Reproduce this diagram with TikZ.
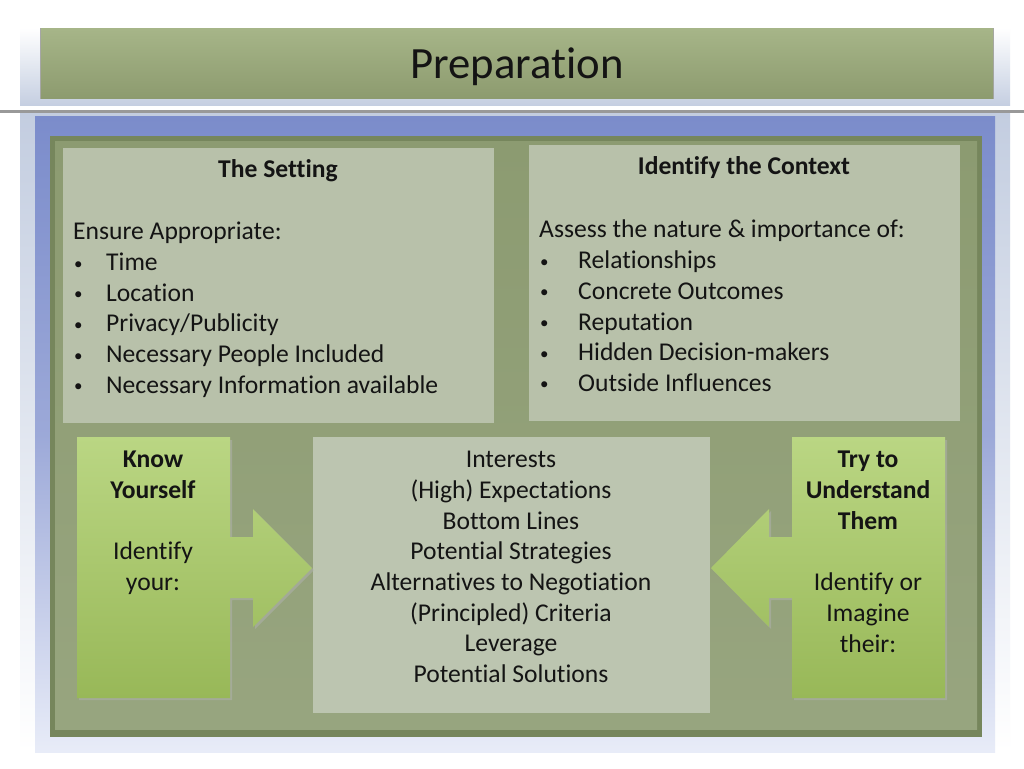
\documentclass[tikz,border=0pt]{standalone}
\usepackage{fontspec}
\setmainfont{Carlito}[RawFeature={-liga;-clig;-calt}]
\newcommand{\blt}[1]{\makebox[#1][l]{\hspace*{1pt}\raisebox{1.5pt}{\fontsize{17pt}{17pt}\selectfont •}}}
\begin{document}
\begin{tikzpicture}[x=1pt,y=-1pt,
  body/.style={font=\fontsize{25.6pt}{30.7pt}\selectfont, text=black!92, inner sep=0pt},
  lightbox/.style={fill=boxfill},
  greenarrow/.style={top color=arrowtop, bottom color=arrowbot, draw=none},
]
\definecolor{backblue}{HTML}{C3CDE0}
\definecolor{titletop}{HTML}{A6B588}
\definecolor{titlebot}{HTML}{8D9B6F}
\definecolor{panelblue}{HTML}{7B8CCB}
\definecolor{panelbluelow}{HTML}{E8ECF8}
\definecolor{panelgreen}{HTML}{8C9B71}
\definecolor{panelgreendark}{HTML}{76865C}
\definecolor{boxfill}{HTML}{B8C1AA}
\definecolor{midfill}{HTML}{BCC5B0}
\definecolor{arrowtop}{HTML}{BAD683}
\definecolor{arrowbot}{HTML}{98B858}
\useasboundingbox (0,0) rectangle (1024,768);
\fill[white] (0,0) rectangle (1024,768);
% backdrop
\shade[top color=white, bottom color=backblue] (20,28) rectangle (1010,108);
\shade[top color=backblue, bottom color=white] (20,112) rectangle (1010,752);
% separator line
\fill[white] (0,106) rectangle (1024,110);
\fill[black!40] (0,110) rectangle (1024,112.5);
% title bar
\fill[black!35] (40,28) rectangle (994,99);
\shade[top color=titletop, bottom color=titlebot] (41,29) rectangle (993,98);
\node[font=\fontsize{44.7pt}{50pt}\selectfont, text=black!92, inner sep=0pt, anchor=base] (title) at (517,78) {Preparation};
% blue panel
\shade[top color=panelblue, bottom color=panelbluelow, middle color=panelblue!75!white] (35,116) rectangle (995,752);
% green panel
\fill[panelgreendark] (50,136) rectangle (982,737);
\shade[top color=panelgreen, bottom color=panelgreen!90!white] (55,141) rectangle (977,729);
% top boxes
\fill[lightbox] (63,148) rectangle (494,423);
\fill[lightbox] (529,145) rectangle (960,421);
% middle box
\fill[midfill] (313,437) rectangle (710,713);
% left arrow
\fill[black!30, opacity=0.5] (79,440) -- (232,440) -- (232,539) -- (255,539) -- (255,511) -- (314,570) -- (255,629) -- (255,600) -- (232,600) -- (232,700) -- (79,700) -- cycle;
\shade[greenarrow] (77,437) -- (230,437) -- (230,537) -- (253,537) -- (253,509) -- (312,568) -- (253,627) -- (253,598) -- (230,598) -- (230,698) -- (77,698) -- cycle;
% right arrow
\fill[black!30, opacity=0.5] (794,440) -- (947,440) -- (947,700) -- (794,700) -- (794,600) -- (771,600) -- (771,629) -- (713,570) -- (771,511) -- (771,539) -- (794,539) -- cycle;
\shade[greenarrow] (792,437) -- (945,437) -- (945,698) -- (792,698) -- (792,598) -- (769,598) -- (769,627) -- (711,568) -- (769,509) -- (769,537) -- (792,537) -- cycle;
% texts
\node[body, anchor=base, font=\fontsize{25.6pt}{30.7pt}\selectfont\bfseries] (settinghead) at (278,177) {The Setting};
\node[body, anchor=north west, align=left] (settingtext) at (73,222) {Ensure Appropriate:\\
\blt{33pt}Time\\
\blt{33pt}Location\\
\blt{33pt}Privacy/Publicity\\
\blt{33pt}Necessary People Included\\
\blt{33pt}Necessary Information available};
\node[body, anchor=base, font=\fontsize{25.6pt}{30.7pt}\selectfont\bfseries] (contexthead) at (744,174) {Identify the Context};
\node[body, anchor=north west, align=left] (contexttext) at (539,220) {Assess the nature \& importance of:\\
\blt{39pt}Relationships\\
\blt{39pt}Concrete Outcomes\\
\blt{39pt}Reputation\\
\blt{39pt}Hidden Decision-makers\\
\blt{39pt}Outside Influences};
\node[body, anchor=north, align=center] (knowtext) at (153,451) {\textbf{Know}\\ \textbf{Yourself}\\[30.7pt] Identify\\ your:};
\node[body, anchor=north, align=center] (trytext) at (868,451) {\textbf{Try to}\\ \textbf{Understand}\\ \textbf{Them}\\[30.7pt] Identify or\\ Imagine\\ their:};
\node[body, anchor=north, align=center] (midtext) at (511,451) {Interests\\ (High) Expectations\\ Bottom Lines\\ Potential Strategies\\ Alternatives to Negotiation\\ (Principled) Criteria\\ Leverage\\ Potential Solutions};
\end{tikzpicture}
\end{document}
